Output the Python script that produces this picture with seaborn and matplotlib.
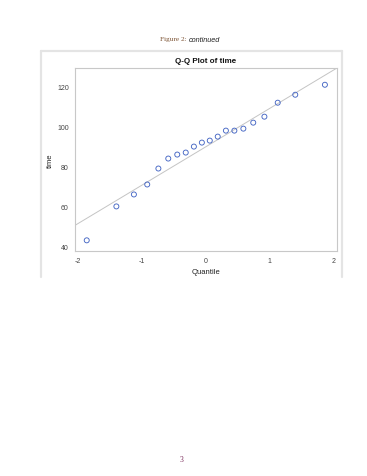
import matplotlib
matplotlib.use("Agg")
import matplotlib.pyplot as plt
import seaborn as sns
import pandas as pd
from matplotlib.lines import Line2D

# Data
quantile = [-1.868, -1.403, -1.128, -0.919, -0.744, -0.589, -0.448, -0.315, -0.187, -0.062,
            0.062, 0.187, 0.315, 0.448, 0.589, 0.744, 0.919, 1.128, 1.403, 1.868]
time = [43, 60, 66, 71, 79, 84, 86, 87, 90, 92, 93, 95, 98, 98, 99, 102, 105, 112, 116, 121]
ref_mu = 89.9
ref_sigma = 19.2
x_ticks = [-2, -1, 0, 1, 2]
y_ticks = [40, 60, 80, 100, 120]

df = pd.DataFrame({"Quantile": quantile, "time": time})

sns.set_theme(style="white")
plt.rcParams["font.family"] = ["Liberation Sans", "DejaVu Sans"]

fig = plt.figure(figsize=(3.67, 4.77), dpi=100)
W, H = 367, 477
ax = fig.add_axes([75 / W, 1 - 251.7 / H, (336.7 - 75) / W, (251.7 - 69) / H])

ax.axline((0, ref_mu), slope=ref_sigma, color="#c4c4c4", lw=0.7, zorder=1)
sns.scatterplot(data=df, x="Quantile", y="time", ax=ax, marker="o", s=13,
                facecolor="none", edgecolor="#4566c4", linewidth=0.65, zorder=3)

ax.set_xlim(-2.052, 2.053)
ax.set_ylim(37.8, 129.4)
ax.set_xticks(x_ticks)
ax.set_yticks(y_ticks)
ax.set_xticklabels([str(v) for v in x_ticks])
ax.set_yticklabels([str(v) for v in y_ticks])
ax.tick_params(axis="both", labelsize=5, colors="#444444", length=2.5, width=0.5,
               direction="out", pad=2)
ax.tick_params(axis="both", color="#aaaaaa")
for sp in ax.spines.values():
    sp.set_color("#c8c8c8")
    sp.set_linewidth(0.8)
ax.set_xlabel("Quantile", fontsize=5.5, color="#222222", labelpad=3)
ax.set_ylabel("time", fontsize=5.5, color="#222222", labelpad=2.5)
ax.set_title("Q-Q Plot of time", fontsize=5.8, fontweight="bold", color="#111111", pad=4)

# outer light gray frame (left, top, right)
fc = "#e4e4e4"
fig.add_artist(Line2D([41 / W, 41 / W], [1 - 278 / H, 1 - 52 / H], color=fc, lw=1.6,
                      transform=fig.transFigure))
fig.add_artist(Line2D([41 / W, 342 / W], [1 - 52 / H, 1 - 52 / H], color=fc, lw=1.6,
                      transform=fig.transFigure))
fig.add_artist(Line2D([342 / W, 342 / W], [1 - 278 / H, 1 - 52 / H], color=fc, lw=1.6,
                      transform=fig.transFigure))

# header and page number
fig.text(187 / W, 1 - 40 / H, "Figure 2:", fontsize=5.2, color="#7a5030",
         ha="right", va="center", family=["Liberation Serif", "DejaVu Serif"])
fig.text(189 / W, 1 - 40 / H, "continued", fontsize=5.2, color="#222222",
         ha="left", va="center", style="italic")
fig.text(182 / W, 1 - 460 / H, "3", fontsize=5.5, color="#7a2a5a", ha="center", va="center",
         family=["Liberation Serif", "DejaVu Serif"])

fig.savefig("out.png", dpi=100)
